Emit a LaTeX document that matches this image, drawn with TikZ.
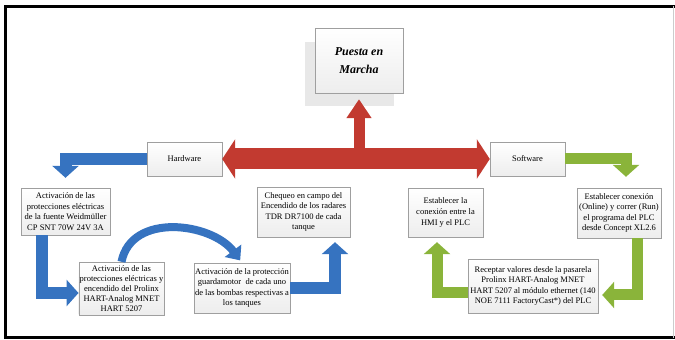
\documentclass[tikz,border=0pt]{standalone}
\usepackage{fontspec}
\setmainfont{Liberation Serif}
\usetikzlibrary{arrows.meta, positioning, calc, shadows}
\usepackage{xcolor}

\definecolor{redmain}{HTML}{C23A30}
\definecolor{bluemain}{HTML}{3673C0}
\definecolor{greenmain}{HTML}{8AB43A}

\begin{document}
\begin{tikzpicture}[
  x=1pt, y=1pt,
  box/.style={rectangle, draw=gray!75, top color=white, bottom color=gray!14,
    align=center, inner sep=1pt, font=\fontsize{8.5}{10.6}\selectfont,
    drop shadow={shadow xshift=1.2pt, shadow yshift=-1.2pt, opacity=0.25}},
  titlebox/.style={box, minimum width=88pt, minimum height=65pt,
    font=\fontsize{12}{18}\selectfont\bfseries\itshape},
  redarrow/.style={draw=redmain, line width=21pt,
    {Triangle[length=13pt, width=39pt, fill=redmain]}-{Triangle[length=13pt, width=39pt, fill=redmain]}},
  bluearrow/.style={draw=bluemain, line width=12pt, line join=miter,
    -{Triangle[length=12pt, width=26pt, fill=bluemain]}},
  greenarrow/.style={draw=greenmain, line width=11pt, line join=miter,
    -{Triangle[length=12pt, width=26pt, fill=greenmain]}}
]
\useasboundingbox (0,0) rectangle (675,340);

% marco
\draw[line width=3pt] (675,333.5) -- (5.5,333.5) -- (5.5,2) -- (675,2);
\draw[gray!40, line width=0.8pt] (673,333.5) -- (673,2);

% sombra del titulo
\fill[gray!18] (305,234) rectangle (394,298);

\node (puesta) [titlebox] at (359,279.5) {Puesta en\\Marcha};
\node (hardware) [box, minimum width=75pt, minimum height=34pt] at (184.5,181) {Hardware};
\node (software) [box, minimum width=75pt, minimum height=34pt] at (527.5,181) {Software};

\node (fuente) [box, minimum width=89pt, minimum height=47pt] at (65.5,128.5)
  {Activación de las\\protecciones eléctricas\\de la fuente Weidmüller\\CP SNT 70W 24V 3A};
\node (prolinx) [box, minimum width=85pt, minimum height=53pt, font=\fontsize{8.5}{10}\selectfont] at (121.5,51.5)
  {Activación de las\\protecciones eléctricas y\\encendido del Prolinx\\HART-Analog MNET\\HART 5207};
\node (guarda) [box, minimum width=96pt, minimum height=50pt] at (242,52)
  {Activación de la protección\\guardamotor~ de cada uno\\de las bombas respectivas a\\los tanques};
\node (chequeo) [box, minimum width=93pt, minimum height=50pt] at (303.5,128)
  {Chequeo en campo del\\Encendido de los radares\\TDR DR7100 de cada\\tanque};
\node (hmi) [box, minimum width=75pt, minimum height=49pt] at (445.5,127.5)
  {Establecer la\\conexión entre la\\HMI y el PLC};
\node (concept) [box, minimum width=84pt, minimum height=50pt] at (619,127)
  {Establecer conexión\\(Online) y correr (Run)\\el programa del PLC\\desde Concept XL2.6};
\node (receptar) [box, minimum width=130pt, minimum height=54pt] at (533,54)
  {Receptar valores desde la pasarela\\Prolinx HART-Analog MNET\\HART 5207 al módulo ethernet (140\\NOE 7111 FactoryCast*) del PLC};

% flechas rojas
\draw [redarrow] (hardware) -- (software);
\draw [draw=redmain, line width=11pt, -{Triangle[length=19pt, width=24pt, fill=redmain]}, shorten >=6pt]
  (puesta.south |- hardware.east) -- (puesta.south);

% flechas azules
\draw [bluearrow, shorten >=10pt] (hardware.west) -| (fuente.north);
\draw [bluearrow] ([xshift=-23.5pt]fuente.south) |- ([yshift=-4.5pt]prolinx.west);
\draw [draw=bluemain, line width=8pt, -{Triangle[length=12pt, width=20pt, fill=bluemain]}, shorten >=3pt]
  (prolinx.north) .. controls +(10,50) and +(-30,40) .. (guarda.north);
\draw [bluearrow, shorten >=5pt] (guarda.east) -| ([xshift=31.5pt]chequeo.south);

% flechas verdes
\draw [greenarrow, shorten >=11pt] (software.east) -| ([xshift=7pt]concept.north);
\draw [greenarrow, shorten >=4pt] ([xshift=18pt]concept.south) |- ([yshift=-9pt]receptar.east);
\draw [greenarrow, shorten >=5pt] ([yshift=-7pt]receptar.west) -| ([xshift=-8.5pt]hmi.south);

\end{tikzpicture}
\end{document}
